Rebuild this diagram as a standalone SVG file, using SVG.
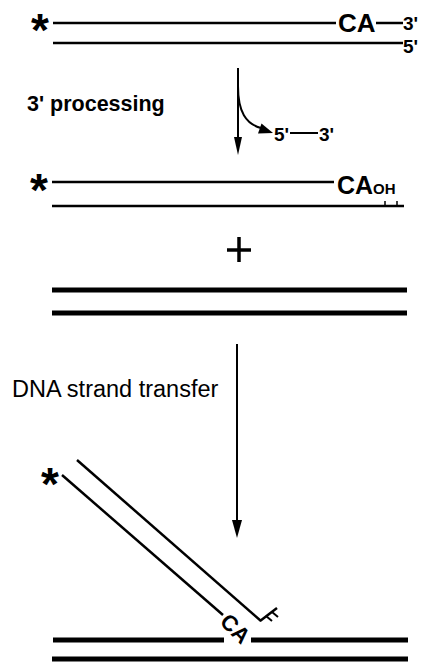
<svg xmlns="http://www.w3.org/2000/svg" width="424" height="662" viewBox="0 0 424 662">
<style>
.s{stroke:#000;fill:none;stroke-linecap:butt}
.thin{stroke-width:2.5}
.thick{stroke-width:5}
.ln{stroke-width:2}
.t{font-family:"Liberation Sans",Arial,sans-serif;fill:#000}
.b{font-weight:bold}
.star{font-family:"Liberation Sans",Arial,sans-serif;font-weight:bold;font-size:46px;fill:#000}
.head{fill:#000;stroke:none}
</style>
<rect width="424" height="662" fill="#fff"/>

<g id="viral-dna">
  <text class="star" x="31" y="46">*</text>
  <line class="s thin" x1="53" y1="23" x2="336" y2="23"/>
  <text class="t b" x="338" y="32" font-size="26">CA</text>
  <line class="s thin" x1="376" y1="23" x2="403" y2="23"/>
  <text class="t b" x="403" y="30" font-size="19">3'</text>
  <line class="s thin" x1="53" y1="43" x2="403" y2="43"/>
  <text class="t b" x="403" y="53" font-size="19">5'</text>
</g>

<g id="label-processing">
  <text class="t b" x="27" y="111" font-size="21.5">3' processing</text>
</g>

<g id="released-dinucleotide">
  <text class="t b" x="274" y="141" font-size="19">5'</text>
  <line class="s ln" x1="290" y1="133" x2="318" y2="133"/>
  <text class="t b" x="319" y="141" font-size="19">3'</text>
</g>

<g id="processed-dna">
  <text class="star" x="30" y="206">*</text>
  <line class="s thin" x1="52" y1="182" x2="334" y2="182"/>
  <text class="t b" x="337" y="194" font-size="25">CA</text>
  <text class="t b" x="373" y="194" font-size="15">OH</text>
  <line class="s thin" x1="52" y1="206" x2="404" y2="206"/>
  <line class="s" stroke-width="1.5" x1="385" y1="201" x2="385" y2="206"/>
  <line class="s" stroke-width="1.5" x1="397" y1="201" x2="397" y2="206"/>
</g>

<g id="plus">
  <line class="s" stroke-width="3.5" x1="227" y1="250" x2="251" y2="250"/>
  <line class="s" stroke-width="3.5" x1="239" y1="237" x2="239" y2="262"/>
</g>

<g id="target-dna">
  <line class="s thick" x1="52" y1="290" x2="407" y2="290"/>
  <line class="s thick" x1="52" y1="313" x2="407" y2="313"/>
</g>

<g id="label-transfer">
  <text class="t" x="12" y="397" font-size="23.5">DNA strand transfer</text>
</g>

<g id="product">
  <text class="star" x="41" y="500">*</text>
  <line class="s thin" x1="62" y1="475" x2="223" y2="615"/>
  <line class="s thin" x1="77" y1="460" x2="261" y2="621"/>
  <polyline class="s thin" points="260,621 277,608"/>
  <line class="s" stroke-width="2" x1="266" y1="616" x2="272" y2="621"/>
  <line class="s" stroke-width="2" x1="272" y1="612" x2="278" y2="617"/>
  <text class="t b" font-size="22" text-anchor="middle" transform="translate(230,634) rotate(45)">CA</text>
  <line class="s thick" x1="53" y1="640" x2="224" y2="640"/>
  <line class="s thick" x1="251" y1="640" x2="408" y2="640"/>
  <line class="s thick" x1="52" y1="659" x2="408" y2="659"/>
</g>

<g id="connectors">
  <line class="s ln" x1="238" y1="68" x2="238" y2="140"/>
  <polygon class="head" points="234,137 242,137 238,155"/>
  <path class="s ln" d="M238,86 C238,112 246,124 261,128"/>
  <polygon class="head" points="258,133.5 261.5,123.5 273,133"/>
  <line class="s ln" x1="237" y1="344" x2="237" y2="522"/>
  <polygon class="head" points="232,520 242,520 237,538"/>
</g>
</svg>
